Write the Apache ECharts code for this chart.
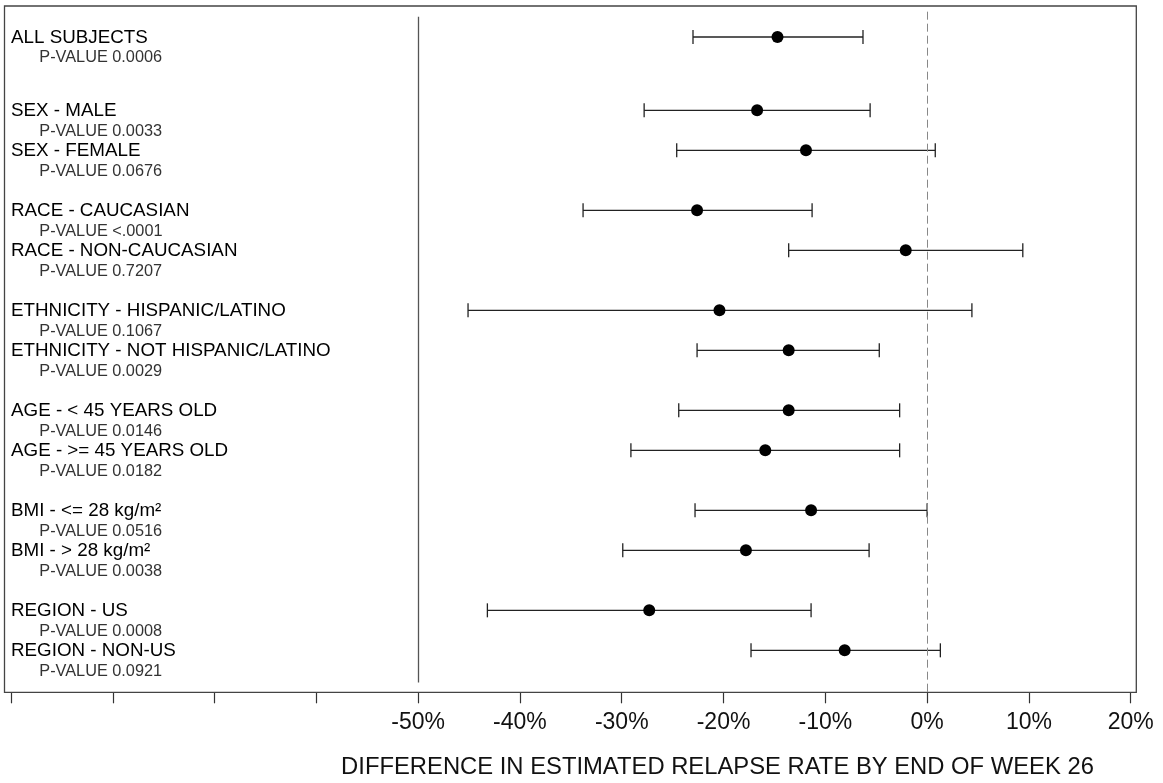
<!DOCTYPE html>
<html>
<head>
<meta charset="utf-8">
<script src="https://cdn.jsdelivr.net/npm/echarts@6/dist/echarts.min.js"></script>
<style>
html,body{margin:0;padding:0;background:#fff;}
#chart{width:1163px;height:783px;}
</style>
</head>
<body>
<div id="chart"></div>
<script>
// ---- data ----
const subgroupLabels = [
  'ALL SUBJECTS',
  'SEX - MALE', 'SEX - FEMALE',
  'RACE - CAUCASIAN', 'RACE - NON-CAUCASIAN',
  'ETHNICITY - HISPANIC/LATINO', 'ETHNICITY - NOT HISPANIC/LATINO',
  'AGE - < 45 YEARS OLD', 'AGE - >= 45 YEARS OLD',
  'BMI - <= 28 kg/m²', 'BMI - > 28 kg/m²',
  'REGION - US', 'REGION - NON-US'
];
const groupIndex = [0, 1, 1, 2, 2, 3, 3, 4, 4, 5, 5, 6, 6];
const pValues = ['0.0006', '0.0033', '0.0676', '<.0001', '0.7207', '0.1067', '0.0029',
                 '0.0146', '0.0182', '0.0516', '0.0038', '0.0008', '0.0921'];
const estimate = [-14.7, -16.7, -11.9, -22.6, -2.1, -20.4, -13.6, -13.6, -15.9, -11.4, -17.8, -27.3, -8.1];
const lowerCI  = [-23.0, -27.8, -24.6, -33.8, -13.6, -45.1, -22.6, -24.4, -29.1, -22.8, -29.9, -43.2, -17.3];
const upperCI  = [-6.3, -5.6, 0.8, -11.3, 9.4, 4.4, -4.7, -2.7, -2.7, 0.0, -5.7, -11.4, 1.3];
const xTickMin = -90, xTickMax = 20, xTickStep = 10;
const axisTitle = 'DIFFERENCE IN ESTIMATED RELAPSE RATE BY END OF WEEK 26';

// ---- layout: vertical slot of each row (1 unit = one row spacing) ----
const rowPos = [];
{
  let prevGroup = 0, pos = 0;
  for (let i = 0; i < groupIndex.length; i++) {
    if (i === 0) { pos = 0; }
    else if (groupIndex[i] !== prevGroup) { pos += (prevGroup === 0 ? 1.833 : 1.5); }
    else { pos += 1; }
    rowPos.push(pos);
    prevGroup = groupIndex[i];
  }
}

const FONT = '"Liberation Sans", Arial, sans-serif';
const chart = echarts.init(document.getElementById('chart'));

const option = {
  backgroundColor: '#fff',
  animation: false,
  grid: { left: 11, right: 32.3, top: 6, bottom: 90.7, containLabel: false },
  xAxis: {
    type: 'value', position: 'bottom',
    min: xTickMin, max: xTickMax, interval: xTickStep,
    axisLine: { show: false, onZero: false },
    axisTick: { show: true, length: 11, lineStyle: { color: '#333', width: 1.2 } },
    splitLine: { show: false },
    axisLabel: {
      margin: 19,
      fontFamily: FONT, fontSize: 23, color: '#111',
      formatter: v => (v < -50 ? '' : v + '%')
    }
  },
  yAxis: {
    type: 'value', inverse: true, min: -0.775, max: 16.3825, show: false
  },
  graphic: [
    {
      type: 'rect', silent: true, z: 10,
      shape: { x: 4.5, y: 6, width: 1131.8, height: 686.3 },
      style: { fill: 'none', stroke: '#444', lineWidth: 1.3 }
    },
    {
      type: 'text', silent: true,
      x: 717.5, y: 767,
      style: {
        text: axisTitle, fontFamily: FONT, fontSize: 23.8, fill: '#111',
        textAlign: 'center', textVerticalAlign: 'middle'
      }
    }
  ],
  series: [
    {
      // reference lines
      type: 'line', data: [], silent: true,
      markLine: {
        symbol: 'none', silent: true, animation: false,
        label: { show: false },
        data: [
          [{ coord: [0, -0.633], lineStyle: { color: '#888', type: [8, 4], width: 1 } },
           { coord: [0, 16.3825] }],
          [{ coord: [-50, -0.5075], lineStyle: { color: '#555', type: 'solid', width: 1.3 } },
           { coord: [-50, 16.14] }]
        ]
      }
    },
    {
      // confidence intervals
      type: 'custom', clip: false, silent: true,
      encode: { x: [0, 1], y: 2 },
      data: lowerCI.map((lo, i) => [lo, upperCI[i], rowPos[i]]),
      renderItem: function (params, api) {
        const a = api.coord([api.value(0), api.value(2)]);
        const b = api.coord([api.value(1), api.value(2)]);
        const h = 7;
        const st = { stroke: '#222', lineWidth: 1.3 };
        return {
          type: 'group',
          children: [
            { type: 'line', shape: { x1: a[0], y1: a[1], x2: b[0], y2: b[1] }, style: st },
            { type: 'line', shape: { x1: a[0], y1: a[1] - h, x2: a[0], y2: a[1] + h }, style: st },
            { type: 'line', shape: { x1: b[0], y1: b[1] - h, x2: b[0], y2: b[1] + h }, style: st }
          ]
        };
      }
    },
    {
      type: 'scatter', silent: true,
      symbol: 'circle', symbolSize: 12,
      itemStyle: { color: '#000', opacity: 1 },
      data: estimate.map((e, i) => [e, rowPos[i]]),
      z: 5
    },
    {
      // subgroup labels and p-values
      type: 'custom', clip: false, silent: true,
      encode: { x: 0, y: 1 },
      data: subgroupLabels.map((l, i) => [xTickMin, rowPos[i], i]),
      renderItem: function (params, api) {
        const p = api.coord([api.value(0), api.value(1)]);
        const i = api.value(2);
        return {
          type: 'group',
          children: [
            { type: 'text', x: p[0], y: p[1] + 1,
              style: { text: subgroupLabels[i], fontFamily: FONT, fontSize: 18.8, fill: '#000',
                       textAlign: 'left', textVerticalAlign: 'middle' } },
            { type: 'text', x: p[0] + 28.3, y: p[1] + 21,
              style: { text: 'P-VALUE ' + pValues[i], fontFamily: FONT, fontSize: 16.3, fill: '#333',
                       textAlign: 'left', textVerticalAlign: 'middle' } }
          ]
        };
      }
    }
  ]
};
chart.setOption(option);
</script>
</body>
</html>
